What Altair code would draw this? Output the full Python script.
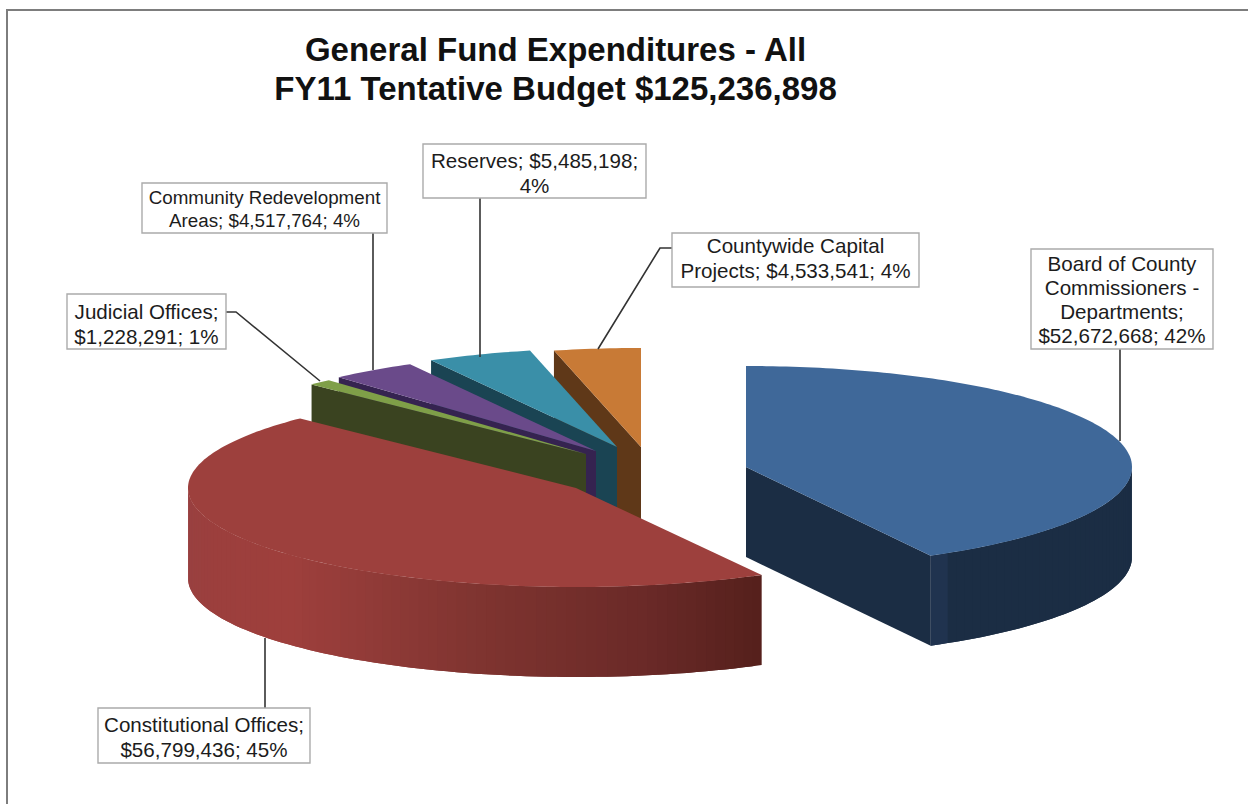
import math
import altair as alt

W, H = 1248, 804

# Budget data
categories = ["Board of County Commissioners - Departments", "Constitutional Offices",
              "Judicial Offices", "Community Redevelopment Areas", "Reserves",
              "Countywide Capital Projects"]
amounts = [52672668, 56799436, 1228291, 4517764, 5485198, 4533541]
percents = [42, 45, 1, 4, 4, 4]
title_lines = ["General Fund Expenditures - All", "FY11 Tentative Budget $125,236,898"]

# Appearance of each slice, in the same order as the data
top_colors = ["#3f6899", "#9d403d", "#7f9f48", "#6a4a8a", "#3a8fa8", "#c87a36"]
face_colors = ["#1b2d44", None, "#3a4320", "#352350", "#1a4453", "#5f3818"]
apex_x = [746, 576, 586, 596, 617, 641]
apex_y = [467, 488, 454, 451, 447, 447]
radius_x = [386, 388, 386, 386, 386, 386]
radius_y = [101, 99, 99, 99, 99, 99]
DEPTH = 90

total = sum(amounts)
starts, ends, running = [], [], 0.0
for amount in amounts:
    starts.append(running)
    running += amount / total * 360
    ends.append(running)


def rim(i, deg):
    a = math.radians(deg)
    return (apex_x[i] + radius_x[i] * math.sin(a), apex_y[i] - radius_y[i] * math.cos(a))


def arc_points(i):
    n = max(2, int(ends[i] - starts[i]) + 1)
    return [rim(i, starts[i] + (ends[i] - starts[i]) * k / n) for k in range(n + 1)]


def feature(points, fill):
    ring = [list(p) for p in points] + [list(points[0])]
    return {"type": "Feature", "geometry": {"type": "Polygon", "coordinates": [ring]},
            "properties": {"fill": fill}}


def drop(p):
    return (p[0], p[1] + DEPTH)


def blend(stops, x):
    stops = sorted(stops)
    if x <= stops[0][0]:
        return stops[0][1]
    for (x0, c0), (x1, c1) in zip(stops, stops[1:]):
        if x <= x1:
            t = (x - x0) / (x1 - x0)
            parts = [int(c0[j:j + 2], 16) * (1 - t) + int(c1[j:j + 2], 16) * t for j in (1, 3, 5)]
            return "#" + "".join(f"{round(v):02x}" for v in parts)
    return stops[-1][1]


red_wall = [(188, "#994040"), (215, "#9c3f3d"), (290, "#9e3f3c"), (365, "#923b38"),
            (480, "#7f3430"), (640, "#6b2a28"), (760, "#55201c")]
blue_wall = [(932, "#20334f"), (950, "#20334f"), (952, "#1b2d44"), (1132, "#1b2d44")]


def wall(i, a0, a1, stops, step=1.5):
    # Each strip runs on under the next one so no seam shows between them
    out = []
    a = a0
    while a < a1 - 1e-6:
        b = min(a + step, a1)
        over = min(b + step, a1)
        arc = [rim(i, a), rim(i, b), rim(i, over)]
        out.append(feature(arc + [drop(p) for p in reversed(arc)],
                           blend(stops, (arc[0][0] + arc[1][0]) / 2)))
        a = b
    return out


shapes = []
# Back slices are painted first, each with its dark cut face under the top surface
for i in (5, 4, 3, 2):
    apex = (apex_x[i], apex_y[i])
    edge = rim(i, starts[i])
    shapes.append(feature([edge, apex, drop(apex), drop(edge)], face_colors[i]))
    shapes.append(feature([apex] + arc_points(i), top_colors[i]))

# Board of County Commissioners slice
blue_apex = (apex_x[0], apex_y[0])
blue_edge = rim(0, ends[0])
shapes += wall(0, 90, ends[0], blue_wall)
shapes.append(feature([blue_apex, blue_edge, drop(blue_edge), drop(blue_apex)], face_colors[0]))
shapes.append(feature([blue_apex] + arc_points(0), top_colors[0]))

# Constitutional Offices slice, its rim shaded from the dark right end to the light left end
shapes += wall(1, starts[1], 270, red_wall)
shapes.append(feature([(apex_x[1], apex_y[1])] + arc_points(1), top_colors[1]))

pie = alt.Chart(alt.Data(values=shapes)).mark_geoshape(strokeWidth=0).encode(
    fill=alt.Fill("properties.fill:N", scale=None),
).project(type="identity", scale=1, translate=[0, 0])

X = alt.X("x:Q", scale=alt.Scale(domain=[0, W]), axis=None)
Y = alt.Y("y:Q", scale=alt.Scale(domain=[H, 0]), axis=None)

# Callouts: box extent, text middle, font size, line spacing and text lines
money = [f"${a:,}" for a in amounts]
callouts = [
    (1031, 1213, 249, 349, 301, 20.6, 24, ["Board of County", "Commissioners -", "Departments;",
                                           f"{money[0]}; {percents[0]}%"]),
    (98, 310, 708, 763, 738, 20.6, 25, ["Constitutional Offices;", f"{money[1]}; {percents[1]}%"]),
    (67, 226, 294, 349, 325, 20.6, 25, ["Judicial Offices;", f"{money[2]}; {percents[2]}%"]),
    (142, 387, 183, 233, 209, 18.8, 23, ["Community Redevelopment", f"Areas; {money[3]}; {percents[3]}%"]),
    (423, 646, 144, 198, 174, 20.6, 25, [f"Reserves; {money[4]};", f"{percents[4]}%"]),
    (672, 919, 233, 287, 259, 20.6, 25, ["Countywide Capital", f"Projects; {money[5]}; {percents[5]}%"]),
]

# Leader lines from the callouts to the slices
leaders = [
    [(1120, 349), (1120, 441)],
    [(265, 708), (265, 638)],
    [(226, 312), (236, 312), (320, 381)],
    [(373, 233), (373, 370)],
    [(480, 198), (480, 357)],
    [(672, 248), (660, 248), (598, 349)],
]

box_rows = [{"x": c[0], "x2": c[1], "y": c[2], "y2": c[3]} for c in callouts]
text_rows = []
for c in callouts:
    for k, line in enumerate(c[7]):
        text_rows.append({"x": (c[0] + c[1]) / 2, "y": c[4] + c[6] * (k - (len(c[7]) - 1) / 2),
                          "size": c[5], "text": line})
leader_rows = [{"id": i, "n": k, "x": p[0], "y": p[1]}
               for i, line in enumerate(leaders) for k, p in enumerate(line)]

leader_marks = alt.Chart(alt.Data(values=leader_rows)).mark_line(
    color="#333333", strokeWidth=1.6).encode(
    x=X, y=Y, detail="id:N", order="n:Q")

boxes = alt.Chart(alt.Data(values=box_rows)).mark_rect(
    fill="white", stroke="#ababab", strokeWidth=1.4).encode(
    x=X, x2="x2:Q", y=Y, y2="y2:Q")

labels = alt.Chart(alt.Data(values=text_rows)).mark_text(
    font="Liberation Sans", color="#1c1c1c", align="center", baseline="middle").encode(
    x=X, y=Y, text="text:N", size=alt.Size("size:Q", scale=None, legend=None))

title_rows = [{"x": 555.5, "y": 51 + 39 * k, "text": t} for k, t in enumerate(title_lines)]
title = alt.Chart(alt.Data(values=title_rows)).mark_text(
    font="Liberation Sans", fontWeight="bold", fontSize=33, color="#111111",
    align="center", baseline="middle").encode(x=X, y=Y, text="text:N")

# Frame along the top and left of the page
frame_rows = [{"id": 0, "n": 0, "x": 7, "y": H}, {"id": 0, "n": 1, "x": 7, "y": 10},
              {"id": 0, "n": 2, "x": W, "y": 10}]
frame = alt.Chart(alt.Data(values=frame_rows)).mark_line(
    color="#7d7d7d", strokeWidth=2).encode(x=X, y=Y, detail="id:N", order="n:Q")

chart = alt.layer(frame, pie, leader_marks, boxes, labels, title).properties(
    width=W, height=H, padding=0,
    autosize=alt.AutoSizeParams(type="none"),
).configure_view(stroke=None)

chart.save("out.html", embed_options={"renderer": "svg", "actions": False})
